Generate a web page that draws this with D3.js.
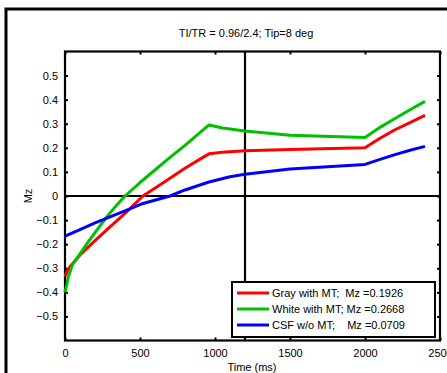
<!DOCTYPE html>
<html><head><meta charset="utf-8">
<script src="https://cdn.jsdelivr.net/npm/d3@7"></script>
<style>body{margin:0;background:#fff}svg{display:block;font-family:"Liberation Sans",Arial,sans-serif}</style>
</head><body><svg id="c" width="447" height="373"></svg>
<script>
const title = "TI/TR = 0.96/2.4; Tip=8 deg";
const xLabel = "Time (ms)";
const yLabel = "Mz";
const xTicks = [0, 500, 1000, 1500, 2000, 2500];
const yTicks = [-0.5, -0.4, -0.3, -0.2, -0.1, 0, 0.1, 0.2, 0.3, 0.4, 0.5];
const markerTime = 1200;
const grayT = [0, 15, 33, 100, 200, 300, 400, 520, 680, 800, 900, 960, 1050, 1200, 1500, 2000, 2100, 2200, 2300, 2400];
const grayMz = [-0.335, -0.312, -0.294, -0.245, -0.185, -0.128, -0.072, 0.0, 0.065, 0.115, 0.153, 0.175, 0.182, 0.188, 0.193, 0.20, 0.24, 0.275, 0.305, 0.335];
const whiteT = [0, 11, 22, 50, 100, 150, 200, 250, 300, 350, 400, 500, 600, 700, 800, 880, 960, 1050, 1200, 1500, 2000, 2100, 2200, 2300, 2400];
const whiteMz = [-0.40, -0.37, -0.335, -0.285, -0.24, -0.195, -0.152, -0.11, -0.07, -0.034, 0.0, 0.056, 0.108, 0.16, 0.21, 0.253, 0.295, 0.282, 0.27, 0.252, 0.243, 0.285, 0.322, 0.358, 0.393];
const csfT = [0, 100, 200, 300, 400, 520, 700, 800, 960, 1100, 1200, 1500, 2000, 2100, 2200, 2300, 2400];
const csfMz = [-0.167, -0.14, -0.112, -0.087, -0.062, -0.031, 0.0, 0.025, 0.058, 0.08, 0.09, 0.112, 0.131, 0.152, 0.172, 0.19, 0.206];
const seriesNames = ["Gray with MT;  Mz =0.1926", "White with MT; Mz =0.2668", "CSF w/o MT;    Mz =0.0709"];
const seriesColors = ["#ff0000", "#00c000", "#0000ff"];

const svg = d3.select("#c");
const L = 65, R = 440, T = 51.5, B = 340.5;
const x = d3.scaleLinear().domain([0, 2500]).range([L, R]);
const y = d3.scaleLinear().domain([-0.6, 0.6]).range([B, T]);

// outer figure frame
svg.append("path").attr("d", `M6,373 L6,9 L447,9`).attr("fill", "none").attr("stroke", "#000").attr("stroke-width", 3);

svg.append("text").attr("x", 246).attr("y", 37).attr("text-anchor", "middle").attr("font-size", 11).text(title);

// axes
const fmt = d => d === 0 ? "0" : d3.format("")(d);
const xa = svg.append("g").attr("transform", `translate(0,${B})`)
  .call(d3.axisBottom(x).tickValues(xTicks).tickSize(-3).tickPadding(9).tickFormat(d3.format("d")));
const ya = svg.append("g").attr("transform", `translate(${L},0)`)
  .call(d3.axisLeft(y).tickValues(yTicks).tickSize(-3).tickPadding(7).tickFormat(fmt));
svg.append("g").attr("transform", `translate(0,${T})`)
  .call(d3.axisTop(x).tickValues(xTicks).tickSize(-3).tickFormat(""));
svg.append("g").attr("transform", `translate(${R},0)`)
  .call(d3.axisRight(y).tickValues(yTicks).tickSize(-3).tickFormat(""));
svg.selectAll(".domain").remove();
svg.selectAll(".tick line").attr("stroke", "#000").attr("stroke-width", 2);
svg.selectAll(".tick text").attr("font-size", 11).attr("fill", "#000").attr("font-family", "Liberation Sans, Arial, sans-serif");

svg.append("rect").attr("x", L).attr("y", T).attr("width", R - L).attr("height", B - T)
  .attr("fill", "none").attr("stroke", "#000").attr("stroke-width", 2.2);

// zero and marker lines
svg.append("line").attr("x1", L).attr("x2", R).attr("y1", y(0)).attr("y2", y(0)).attr("stroke", "#000").attr("stroke-width", 2.2);
svg.append("line").attr("x1", x(markerTime)).attr("x2", x(markerTime)).attr("y1", T).attr("y2", B).attr("stroke", "#000").attr("stroke-width", 2.2);

svg.append("text").attr("x", 252).attr("y", 371).attr("text-anchor", "middle").attr("font-size", 11).text(xLabel);
svg.append("text").attr("transform", `translate(32,${(T + B) / 2}) rotate(-90)`).attr("text-anchor", "middle").attr("font-size", 11).text(yLabel);

// data lines
const line = d3.line().x(d => x(d[0])).y(d => y(d[1]));
const series = [[grayT, grayMz], [whiteT, whiteMz], [csfT, csfMz]];
series.forEach((s, i) => {
  const pts = s[0].map((t, k) => [t, s[1][k]]);
  svg.append("path").datum(pts).attr("d", line).attr("fill", "none")
    .attr("stroke", seriesColors[i]).attr("stroke-width", 3).attr("stroke-linejoin", "round");
});

// legend
const lg = svg.append("g");
lg.append("rect").attr("x", 232).attr("y", 282).attr("width", 203).attr("height", 55)
  .attr("fill", "#fff").attr("stroke", "#000").attr("stroke-width", 2);
seriesNames.forEach((n, i) => {
  const yy = 293 + i * 16;
  lg.append("line").attr("x1", 237).attr("x2", 269).attr("y1", yy).attr("y2", yy)
    .attr("stroke", seriesColors[i]).attr("stroke-width", 3);
  lg.append("text").attr("x", 272).attr("y", yy + 4).attr("font-size", 11)
    .style("white-space", "pre").text(n);
});
</script></body></html>
